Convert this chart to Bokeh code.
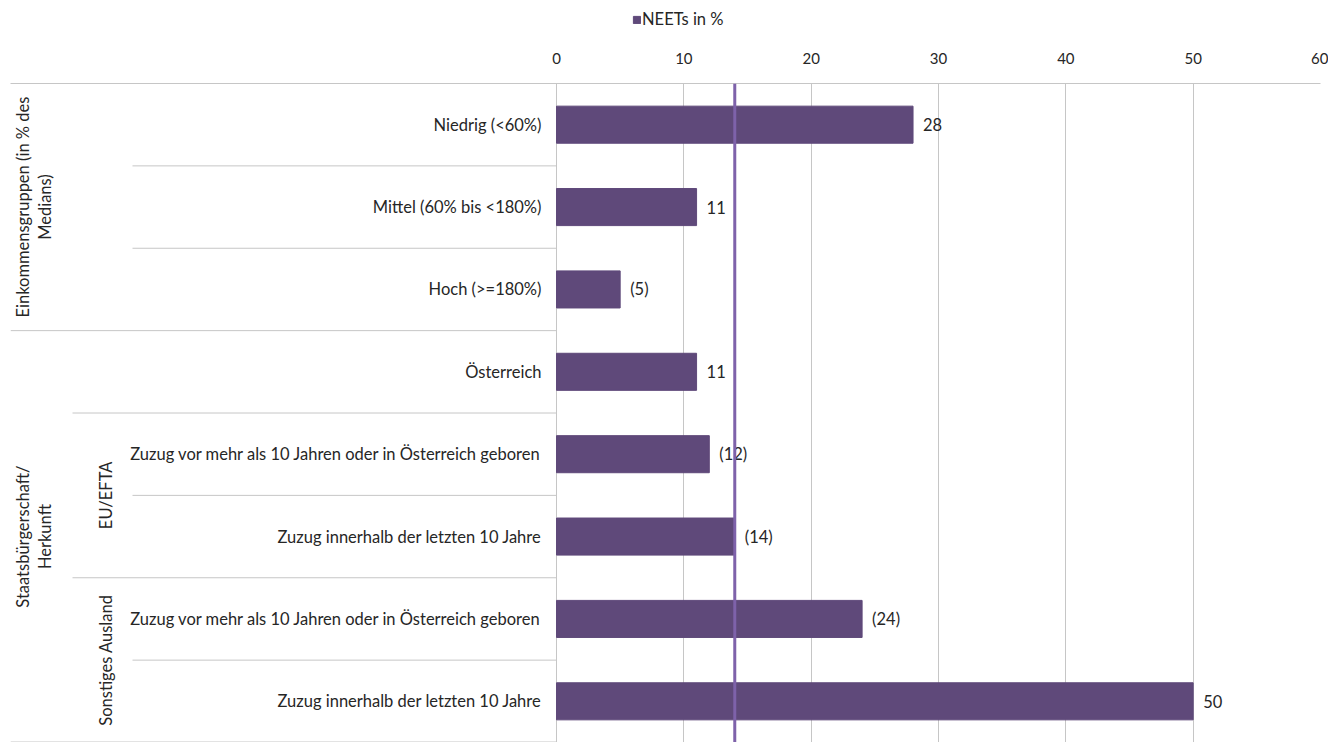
import math
from bokeh.plotting import figure
from bokeh.layouts import column
from bokeh.models import Range1d, FixedTicker, Span, ColumnDataSource, Legend, LegendItem
from bokeh.core.properties import value
from bokeh.embed import file_html
from bokeh.resources import INLINE

# ---------------- data ----------------
categories = [
    "Niedrig (<60%)",
    "Mittel (60% bis <180%)",
    "Hoch (>=180%)",
    "Österreich",
    "Zuzug vor mehr als 10 Jahren oder in Österreich geboren",
    "Zuzug innerhalb der letzten 10 Jahre",
    "Zuzug vor mehr als 10 Jahren oder in Österreich geboren",
    "Zuzug innerhalb der letzten 10 Jahre",
]
values = [28, 11, 5, 11, 12, 14, 24, 50]
value_labels = ["28", "11", "(5)", "11", "(12)", "(14)", "(24)", "50"]
average = 14
x_ticks = [0, 10, 20, 30, 40, 50, 60]
series_name = "NEETs in %"

main_group_lines = [["Einkommensgruppen (in % des", "Medians)"], ["Staatsbürgerschaft/", "Herkunft"]]
main_group_rows = [(0, 3), (3, 8)]
sub_groups = ["EU/EFTA", "Sonstiges Ausland"]
sub_group_rows = [(4, 6), (6, 8)]

# ---------------- layout ----------------
FONT = "Lato"
BAR = "#5F497A"
AVG = "#7E62AA"
GRID = "#C6C6C6"
TXT = "#262626"
FS = "16.5px"

W, H = 1328, 742
LEG_H = 36
MAIN_H = H - LEG_H
LEFT_BORDER, RIGHT_BORDER, TOP_BORDER = 10, 8, 83 - LEG_H
frame_w = W - LEFT_BORDER - RIGHT_BORDER
frame_h = MAIN_H - TOP_BORDER
zero_px = 546           # distance of value 0 from frame left, px
ppu = (frame_w - zero_px) / x_ticks[-1]
xmin = -zero_px / ppu

n = len(categories)

def px(off):  # frame-left pixel offset -> data x
    return xmin + off / ppu

ys = [i + 0.5 for i in range(n)]

p = figure(width=W, height=MAIN_H, x_range=Range1d(xmin, x_ticks[-1]), y_range=Range1d(n, 0),
           x_axis_location="above", y_axis_location=None, toolbar_location=None,
           output_backend="svg", min_border_left=LEFT_BORDER, min_border_right=RIGHT_BORDER,
           min_border_top=TOP_BORDER, min_border_bottom=0)
p.outline_line_color = None
p.background_fill_color = "white"
p.border_fill_color = "white"

ax = p.xaxis[0]
ax.ticker = FixedTicker(ticks=x_ticks)
ax.axis_line_color = GRID
ax.major_tick_line_color = None
ax.minor_tick_line_color = None
ax.major_label_text_font = FONT
ax.major_label_text_font_size = "15px"
ax.major_label_text_color = TXT
ax.major_label_standoff = 14

p.xgrid.ticker = FixedTicker(ticks=x_ticks)
p.xgrid.grid_line_color = GRID
p.ygrid.grid_line_color = None

src = ColumnDataSource(dict(y=ys, v=values, lab=value_labels, cat=categories))
bars = p.hbar(y="y", right="v", left=0, height=0.45, source=src, fill_color=BAR, line_color=BAR)

p.add_layout(Span(location=average, dimension="height", line_color=AVG, line_width=3))

# category labels
p.text(x=0, y="y", text="cat", source=src, x_offset=-15, text_align="right", text_baseline="middle",
       text_font=value(FONT), text_font_size=FS, text_color=TXT)
# value labels
p.text(x="v", y="y", text="lab", source=src, x_offset=10, text_align="left", text_baseline="middle",
       text_font=value(FONT), text_font_size=FS, text_color=TXT)

# separators
b_x0, b_y = [], []
full_left, mid_left, inner_left = px(0), px(62), px(122)
for b in range(1, n + 1):
    if any(b == e for (_, e) in main_group_rows):
        x0 = full_left
    elif any(b == e or b == s for (s, e) in sub_group_rows):
        x0 = mid_left
    else:
        x0 = inner_left
    b_x0.append(x0)
    b_y.append(b if b < n else n - 0.006)
p.segment(x0=b_x0, y0=b_y, x1=[0] * n, y1=b_y, line_color=GRID, line_width=1)

# group labels (rotated), one glyph per text line
for k, (s, e) in enumerate(main_group_rows):
    lines = main_group_lines[k]
    for j, line in enumerate(lines):
        p.text(x=[px(12 + 22 * j)], y=[(s + e) / 2], text=[line], angle=math.pi / 2,
               text_align="center", text_baseline="middle", text_font=value(FONT),
               text_font_size=FS, text_color=TXT)
p.text(x=[px(95)] * 2, y=[(s + e) / 2 for s, e in sub_group_rows], text=sub_groups, angle=math.pi / 2,
       text_align="center", text_baseline="middle", text_font=value(FONT), text_font_size=FS,
       text_color=TXT)

# ---------------- legend strip ----------------
# A hidden copy of the bar renderer only feeds the legend swatch.
lf = figure(width=W, height=LEG_H, x_range=Range1d(-100, -99), y_range=Range1d(-2, -1),
            x_axis_location=None, y_axis_location=None, toolbar_location=None,
            output_backend="svg", min_border=0)
lf.outline_line_color = None
lf.xgrid.visible = False
lf.ygrid.visible = False
proxy = lf.hbar(y="y", right="v", left=0, height=0.45, source=src, fill_color=BAR, line_color=BAR)
proxy.visible = False
legend = Legend(items=[LegendItem(label=series_name, renderers=[proxy])], orientation="horizontal",
                location=(622, 7), border_line_color=None, background_fill_alpha=0,
                label_text_font=FONT, label_text_font_size="16.5px", label_text_color=TXT,
                glyph_width=9, glyph_height=9, padding=0, margin=0, label_standoff=1,
                label_height=18)
lf.add_layout(legend)

layout = column(lf, p, spacing=0)
open("out.html", "w").write(file_html(layout, INLINE))
